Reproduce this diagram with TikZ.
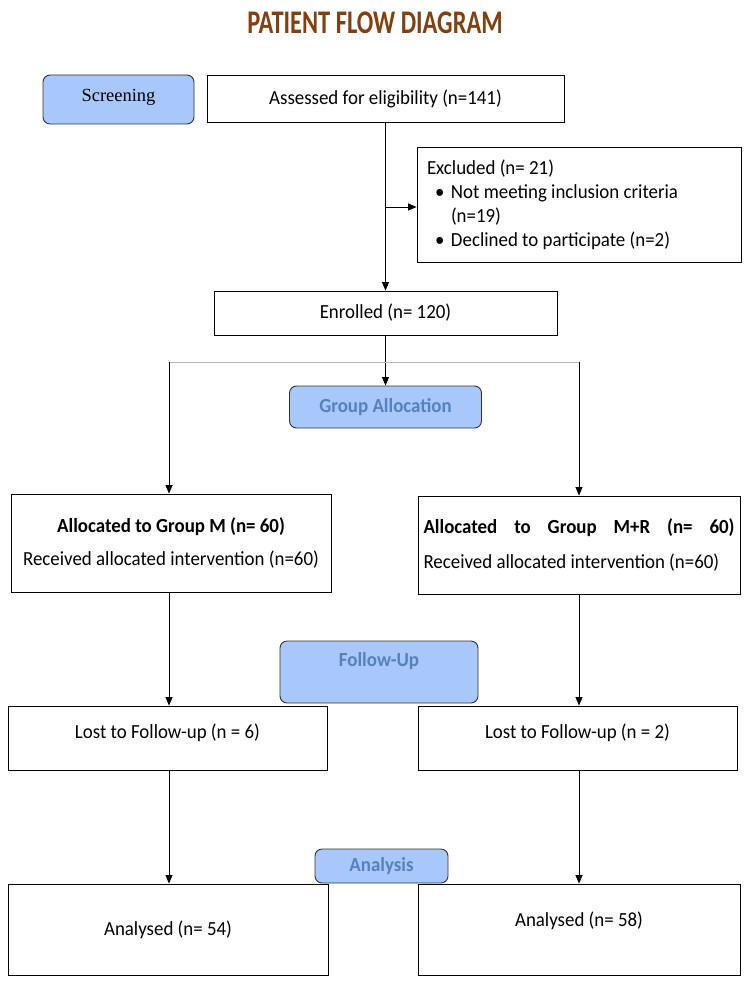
\documentclass[tikz,border=0pt]{standalone}
\usepackage{fontspec}
\setmainfont{Carlito}[FakeStretch=0.945]
\newfontfamily\titlefont{Carlito}[FakeStretch=0.74]
\newfontfamily\serifrm{Liberation Serif}
\usetikzlibrary{positioning,arrows.meta}
\definecolor{titlebrown}{RGB}{133,62,14}
\definecolor{tagfill}{RGB}{168,199,250}
\definecolor{tagtext}{RGB}{84,130,190}

\begin{document}
\begin{tikzpicture}[x=1pt,y=-1pt,
    box/.style={draw,line width=0.9pt,inner sep=4pt,font=\fontsize{20}{24}\selectfont,anchor=center},
    tag/.style={draw=black!80,line width=0.9pt,rounded corners=7pt,fill=tagfill,text=tagtext,font=\fontsize{20}{24}\selectfont\bfseries,anchor=center},
    arr/.style={-{Triangle[length=8.5pt,width=7pt]},line width=0.8pt},
]
\useasboundingbox (0,0) rectangle (750,981);
\node[font=\fontsize{33}{36}\titlefont\bfseries,text=titlebrown] (title) at (375,23) {PATIENT FLOW DIAGRAM};

% screening
\node[tag,text=black,font=\fontsize{18.5}{20}\serifrm,minimum width=151pt,minimum height=49pt,text depth=8pt] (screen) at (118.5,99.5) {Screening};
\node[box,minimum width=357pt,minimum height=47pt] (assess) at (385.5,98.5) {Assessed for eligibility (n=141)};
\node[box,align=left,inner xsep=10pt,minimum height=115pt] (excl) at (579,204.5)
  {\makebox[304pt][l]{Excluded (n= 21)}\\
   \makebox[24pt][l]{\hspace{8pt}\textbullet}Not meeting inclusion criteria\\
   \hspace*{24pt}(n=19)\\
   \makebox[24pt][l]{\hspace{8pt}\textbullet}Declined to participate (n=2)};
\node[box,minimum width=343pt,minimum height=44pt] (enrol) at (385.5,313) {Enrolled (n= 120)};
\coordinate (br) at (385.5,207);

% allocation
\node[tag,minimum width=192pt,minimum height=42pt] (galloc) at (385.5,407) {Group Allocation};
\coordinate (splitL) at (169,362);
\coordinate (splitR) at (579,362);
\node[box,font=\fontsize{20}{33}\selectfont,align=center,minimum width=320pt,minimum height=98pt] (allocM) at (171,543)
  {\textbf{Allocated to Group M (n= 60)}\\Received allocated intervention (n=60)};
\node[box,font=\fontsize{20}{35}\selectfont,align=left,inner xsep=5.5pt,minimum height=98pt] (allocMR) at (579,545)
  {\makebox[311pt][s]{\bfseries Allocated\hfill to\hfill Group\hfill M+R\hfill (n=\hfill 60)}\\Received allocated intervention (n=60)};

% follow-up
\node[tag,minimum width=198pt,minimum height=62pt,inner ysep=0pt,text height=25pt,text depth=37pt] (follow) at (379,672) {Follow-Up};
\node[box,minimum width=319pt,minimum height=64pt,text depth=14pt] (lostM) at (167.5,738) {Lost to Follow-up (n = 6)};
\node[box,minimum width=319pt,minimum height=64pt,text depth=14pt] (lostMR) at (577.5,738) {Lost to Follow-up (n = 2)};

% analysis
\node[tag,minimum width=133pt,minimum height=34pt] (analysis) at (381.5,866) {Analysis};
\node[box,minimum width=320pt,minimum height=91pt] (anaM) at (168,929.5) {Analysed (n= 54)};
\node[box,minimum width=322pt,minimum height=91pt,text depth=21pt] (anaMR) at (579,929.5) {Analysed (n= 58)};

\draw[arr] (assess) -- (enrol);
\draw[arr] (br) -- (br -| excl.west);
\draw[arr] (enrol) -- (galloc);
\draw[gray!55] (splitL) -- (splitR);
\draw[arr] (splitL) -- (splitL |- allocM.north);
\draw[arr] (splitR) -- (allocMR);
\draw[arr] (allocM.south -| splitL) -- (lostM.north -| splitL);
\draw[arr] (allocMR.south -| splitR) -- (lostMR.north -| splitR);
\draw[arr] (lostM.south -| splitL) -- (anaM.north -| splitL);
\draw[arr] (lostMR.south -| splitR) -- (anaMR.north -| splitR);
\end{tikzpicture}
\end{document}
